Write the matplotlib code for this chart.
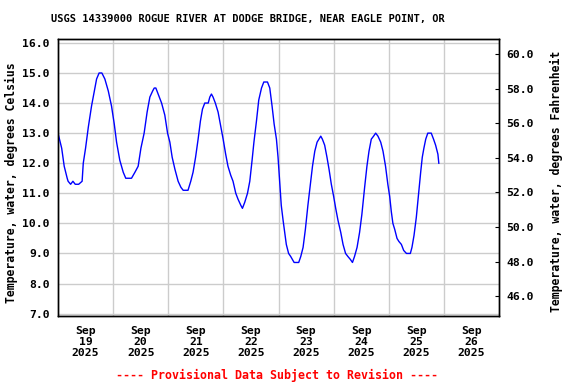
import numpy as np
import matplotlib
matplotlib.use("Agg")
import matplotlib.pyplot as plt
import matplotlib.dates as mdates
import datetime as dt

# Hours after 2025-09-19 00:00 and water temperature (deg C)
hours = [0.0, 1.6, 2.7, 4.0, 4.4, 5.5, 6.5, 7.5, 9.0, 10.5, 11.0, 12.0, 13.2, 14.6, 15.8,
         16.8, 17.9, 19.1, 20.4, 21.9, 23.3, 24.5, 25.5, 26.9, 28.4, 29.5, 32.0, 33.5,
         34.9, 36.1, 37.5, 38.8, 40.0, 41.2, 41.9, 42.6, 43.6, 45.1, 46.5, 47.7, 48.7,
         49.7, 50.9, 52.3, 53.5, 54.5, 56.6, 57.8, 58.8, 59.9, 61.0, 62.0, 62.9, 63.9,
         65.4, 66.1, 66.8, 67.5, 68.5, 69.7, 70.9, 71.9, 73.0, 74.0, 75.2, 76.2, 77.4,
         78.4, 79.6, 80.3, 81.3, 82.5, 83.5, 84.5, 85.3, 86.4, 87.4, 88.6, 89.6, 91.2,
         92.2, 93.2, 94.1, 95.1, 95.8, 96.5, 97.2, 98.0, 98.7, 99.4, 100.4, 101.3, 102.8,
         104.8, 105.7, 106.7, 107.7, 108.8, 109.9, 110.8, 111.8, 112.8, 113.6, 114.4,
         115.1, 116.1, 117.1, 118.0, 119.0, 120.0, 120.9, 121.9, 123.1, 124.1, 125.2,
         126.2, 127.3, 128.2, 129.1, 130.2, 131.3, 132.3, 133.5, 134.5, 135.4, 136.4,
         137.4, 138.3, 139.3, 140.5, 141.5, 142.6, 143.6, 144.4, 145.1, 145.8, 146.6,
         147.6, 148.4, 149.5, 150.5, 151.7, 153.4, 154.1, 155.0, 156.0, 157.0, 157.9,
         158.6, 159.3, 160.1, 161.0, 162.5, 163.5, 164.4, 165.4, 165.8]
temps = [13.0, 12.5, 11.9, 11.5, 11.4, 11.3, 11.4, 11.3, 11.3, 11.4, 12.0, 12.5, 13.2, 13.9, 14.4,
         14.8, 15.0, 15.0, 14.8, 14.4, 13.9, 13.3, 12.7, 12.1, 11.7, 11.5, 11.5, 11.7,
         11.9, 12.5, 13.0, 13.7, 14.2, 14.4, 14.5, 14.5, 14.3, 14.0, 13.6, 13.0, 12.7,
         12.2, 11.8, 11.4, 11.2, 11.1, 11.1, 11.4, 11.7, 12.2, 12.8, 13.4, 13.8, 14.0,
         14.0, 14.2, 14.3, 14.2, 14.0, 13.7, 13.2, 12.8, 12.3, 11.9, 11.6, 11.4, 11.0,
         10.8, 10.6, 10.5, 10.7, 11.0, 11.4, 12.1, 12.7, 13.4, 14.1, 14.5, 14.7, 14.7,
         14.5, 13.9, 13.3, 12.8, 12.2, 11.4, 10.6, 10.1, 9.7, 9.3, 9.0, 8.9, 8.7,
         8.7, 8.9, 9.2, 9.8, 10.6, 11.3, 11.9, 12.4, 12.7, 12.8, 12.9,
         12.8, 12.6, 12.2, 11.8, 11.3, 10.9, 10.5, 10.1, 9.7, 9.3, 9.0,
         8.9, 8.8, 8.7, 8.9, 9.2, 9.7, 10.3, 11.2, 11.9, 12.4, 12.8,
         12.9, 13.0, 12.9, 12.7, 12.4, 11.9, 11.3, 10.9, 10.4, 10.0, 9.8,
         9.5, 9.4, 9.3, 9.1, 9.0, 9.0, 9.2, 9.6, 10.2, 11.0, 11.7,
         12.2, 12.5, 12.8, 13.0, 13.0, 12.8, 12.6, 12.3, 12.0]

c_ticks = [7.0, 8.0, 9.0, 10.0, 11.0, 12.0, 13.0, 14.0, 15.0, 16.0]
f_ticks = [46.0, 48.0, 50.0, 52.0, 54.0, 56.0, 58.0, 60.0]
day_labels = ["Sep\n19\n2025", "Sep\n20\n2025", "Sep\n21\n2025", "Sep\n22\n2025",
              "Sep\n23\n2025", "Sep\n24\n2025", "Sep\n25\n2025", "Sep\n26\n2025"]

start = dt.datetime(2025, 9, 19)
times = [start + dt.timedelta(hours=h) for h in hours]

FONT = "DejaVu Sans Mono"
FS = 8.2

fig = plt.figure(figsize=(5.76, 3.84), dpi=100)
ax = fig.add_axes([58 / 576, 1 - 316 / 384, (499 - 58) / 576, (316 - 39) / 384])

ax.plot(times, temps, color="#0000ff", linewidth=1.0, zorder=3)

ax.set_xlim(start, start + dt.timedelta(days=8))
ax.set_ylim(6.92, 16.13)

# gridlines at midnight, labels at noon
mid = [mdates.date2num(start + dt.timedelta(days=d)) for d in range(1, 8)]
noon = [mdates.date2num(start + dt.timedelta(days=d, hours=12)) for d in range(8)]
ax.set_xticks(mid, minor=True)
ax.set_xticks(noon)
ax.set_xticklabels(day_labels, fontfamily=FONT, fontweight="bold", fontsize=FS,
                   linespacing=1.12)
ax.tick_params(axis="x", which="both", length=0, pad=7)
ax.grid(True, axis="x", which="minor", color="#cccccc", linewidth=1.0)

ax.set_yticks(c_ticks)
ax.set_yticklabels([f"{v:.1f}" for v in c_ticks], fontfamily=FONT, fontweight="bold",
                   fontsize=FS)
ax.tick_params(axis="y", length=0, pad=6)
ax.grid(True, axis="y", which="major", color="#cccccc", linewidth=1.0)
ax.set_axisbelow(True)

for s in ax.spines.values():
    s.set_color("black")
    s.set_linewidth(1.0)

ax2 = ax.twinx()
ax2.set_ylim(44.85, 60.87)
ax2.set_yticks(f_ticks)
ax2.set_yticklabels([f"{v:.1f}" for v in f_ticks], fontfamily=FONT, fontweight="bold",
                    fontsize=FS)
ax2.tick_params(axis="y", direction="in", length=3, pad=5, width=0.8)
for s in ax2.spines.values():
    s.set_color("black")
    s.set_linewidth(1.0)

fig.text(247.5 / 576, 1 - 19 / 384,
         "USGS 14339000 ROGUE RIVER AT DODGE BRIDGE, NEAR EAGLE POINT, OR",
         ha="center", va="center", fontfamily=FONT, fontweight="bold", fontsize=7.45)
fig.text(11.7 / 576, 1 - 183 / 384, "Temperature, water, degrees Celsius",
         rotation=90, ha="center", va="center", fontfamily=FONT, fontweight="bold",
         fontsize=8.3)
fig.text(556 / 576, 1 - 181.7 / 384, "Temperature, water, degrees Fahrenheit",
         rotation=90, ha="center", va="center", fontfamily=FONT, fontweight="bold",
         fontsize=8.3)
fig.text(277.5 / 576, 1 - 375 / 384, "---- Provisional Data Subject to Revision ----",
         ha="center", va="center", color="red", fontfamily=FONT, fontweight="bold",
         fontsize=8.4)

fig.savefig("out.png", dpi=100)
